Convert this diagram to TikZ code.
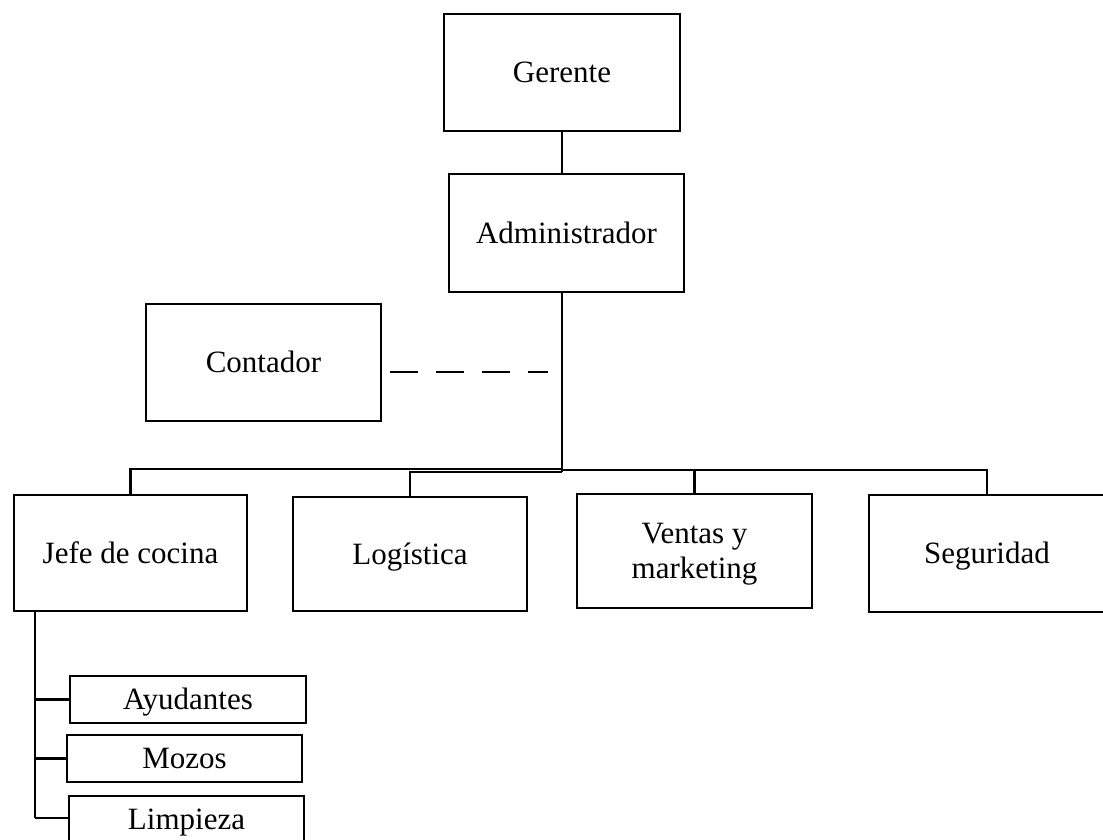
\documentclass[tikz,border=0pt]{standalone}
\usepackage{fontspec}
\setmainfont{Liberation Serif}
\begin{document}
\begin{tikzpicture}[x=1pt,y=-1pt,
  box/.style={draw=black, line width=2.8pt, rectangle, inner sep=0pt, align=center,
    font=\fontsize{31}{35}\selectfont},
  one/.style={text height=24pt, text depth=4pt},
  conn/.style={draw=black, line width=2.8pt},
  bus/.style={draw=black, line width=2.3pt},
  dashline/.style={draw=black, line width=1.7pt, dash pattern=on 28pt off 18pt}]
\useasboundingbox (0,0) rectangle (1103,839);
\node[box, one, minimum width=236pt, minimum height=117pt] (ger) at (562,72.5) {Gerente};
\node[box, one, minimum width=235pt, minimum height=118pt] (adm) at (566.5,233) {Administrador};
\node[box, one, minimum width=235pt, minimum height=117pt] (con) at (263.5,362.5) {Contador};
\node[box, one, minimum width=233pt, minimum height=116pt] (jef) at (130.5,553) {Jefe de cocina};
\node[box, one, minimum width=234pt, minimum height=114pt] (log) at (410,554) {Logística};
\node[box, minimum width=235pt, minimum height=114pt] (ven) at (694.5,551) {\rule{0pt}{26pt}Ventas y\\marketing};
\node[box, one, minimum width=236pt, minimum height=117pt] (seg) at (987,553.5) {Seguridad};
\node[box, one, minimum width=236pt, minimum height=47pt] (ayu) at (188,699.5) {Ayudantes};
\node[box, one, minimum width=235pt, minimum height=47pt] (moz) at (184.5,758.5) {Mozos};
\node[box, one, minimum width=235pt, minimum height=47pt] (lim) at (186.5,819.5) {Limpieza};
\coordinate (top) at (562,0);
\coordinate (busA) at (562,469);
\coordinate (busB) at (562,472);
\coordinate (busC) at (562,470);
\coordinate (dashS) at (390,372);
\coordinate (dashE) at (548,372);
\coordinate (sub) at (35,818);
% Gerente - Administrador - bus
\draw[conn] (ger.south) -- (ger.south |- adm.north);
\draw[conn] (top |- adm.south) -- (busB);
% left bus
\draw[bus] (jef.north) -- (jef.north |- busA) -- (busA);
\draw[bus] (log.north) -- (log.north |- busB) -- (busB);
% right bus
\draw[bus] (busC) -- (seg.north |- busC) -- (seg.north);
\draw[bus] (ven.north) -- (ven.north |- busC);
% dashed to Contador
\draw[dashline] (dashS) -- (dashE);
% sub-boxes of Jefe de cocina
\draw[conn] (sub |- jef.south) -- (sub);
\draw[conn] (sub |- ayu.west) -- (ayu.west);
\draw[conn] (sub |- moz.west) -- (moz.west);
\draw[conn] (sub) -- (lim.west |- sub);
\end{tikzpicture}
\end{document}
